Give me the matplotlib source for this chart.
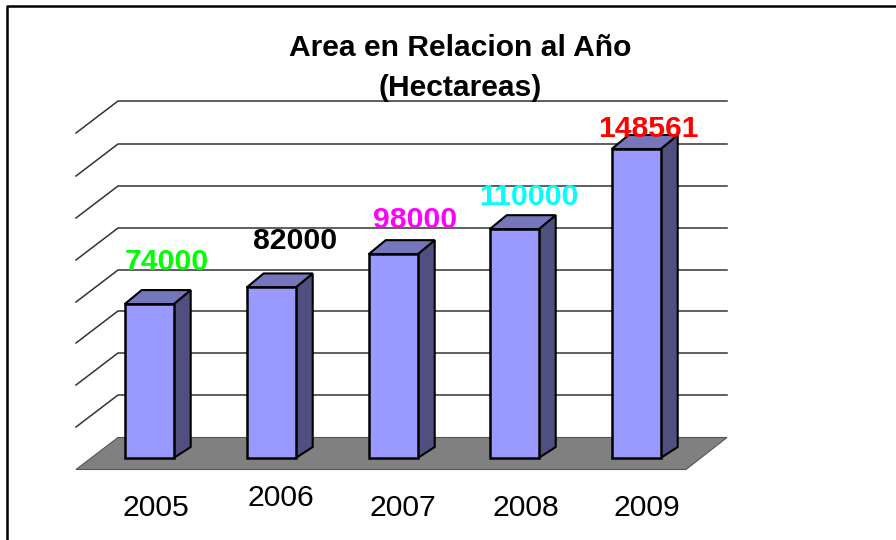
import matplotlib
matplotlib.use("Agg")
import matplotlib.pyplot as plt
from matplotlib.patches import Polygon

plt.rcParams["font.family"] = ["Liberation Sans", "DejaVu Sans"]

# data
years = ["2005", "2006", "2007", "2008", "2009"]
area = [74000, 82000, 98000, 110000, 148561]
label_colors = ["#00ff00", "#000000", "#ff00ff", "#00ffff", "#ff0000"]
title = "Area en Relacion al Año\n(Hectareas)"

# layout, in pixels of the 896x540 picture
bar_left = [124.7, 246.7, 368.7, 489.7, 611.7]
bar_w = 49
base_y = 458
px_per_unit = 0.002080
label_x = [167, 295, 415, 529, 648]
label_y = [262, 241, 220, 197, 129]
year_x = [156, 281, 403, 526, 647]
year_y = [508, 498, 508, 508, 508]
grid_y = [395, 353, 311, 270, 228, 186, 144, 101]

fig = plt.figure(figsize=(8.96, 5.4), dpi=100)
ax = fig.add_axes([0, 0, 1, 1])
ax.set_xlim(0, 896)
ax.set_ylim(540, 0)
ax.axis("off")

# chart frame, open on the right and at the bottom
ax.plot([6.5, 6.5, 896], [540, 5.5, 5.5], color="black", lw=1.8, solid_capstyle="butt")

# walls
for y in grid_y:
    ax.plot([76, 118, 727], [y + 32, y, y], color="#333333", lw=1.1, zorder=1)

# floor
floor = [(76, 469.5), (118, 437.5), (727, 437.5), (686, 469.5)]
ax.add_patch(Polygon(floor, closed=True, facecolor="#808080", edgecolor="#555555", lw=0.8, zorder=2))

# bars
for left, v in zip(bar_left, area):
    top = base_y - v * px_per_unit
    right = left + bar_w
    side = [(right, top), (right + 17, top - 14), (right + 17, base_y - 11), (right, base_y)]
    cap = [(left, top), (left + 17, top - 14), (right + 17, top - 14), (right, top)]
    ax.add_patch(Polygon(side, closed=True, facecolor="#4f4f80", edgecolor="black", lw=1.5, zorder=3))
    ax.add_patch(Polygon(cap, closed=True, facecolor="#7676bd", edgecolor="black", lw=1.5, zorder=3))
    ax.add_patch(plt.Rectangle((left, top), bar_w, base_y - top, facecolor="#9999ff",
                               edgecolor="black", lw=1.8, zorder=4))

# value labels
for x, y, v, c in zip(label_x, label_y, area, label_colors):
    ax.text(x, y, str(v), color=c, fontsize=21.7, fontweight="bold", ha="center", va="center", zorder=5)

# years
for x, y, s in zip(year_x, year_y, years):
    ax.text(x, y, s, color="black", fontsize=21.7, ha="center", va="center", zorder=5)

ax.text(460.5, 68, title, color="black", fontsize=21.6, fontweight="bold", ha="center", va="center",
        linespacing=1.56, zorder=5)

fig.savefig("out.png", dpi=100)
